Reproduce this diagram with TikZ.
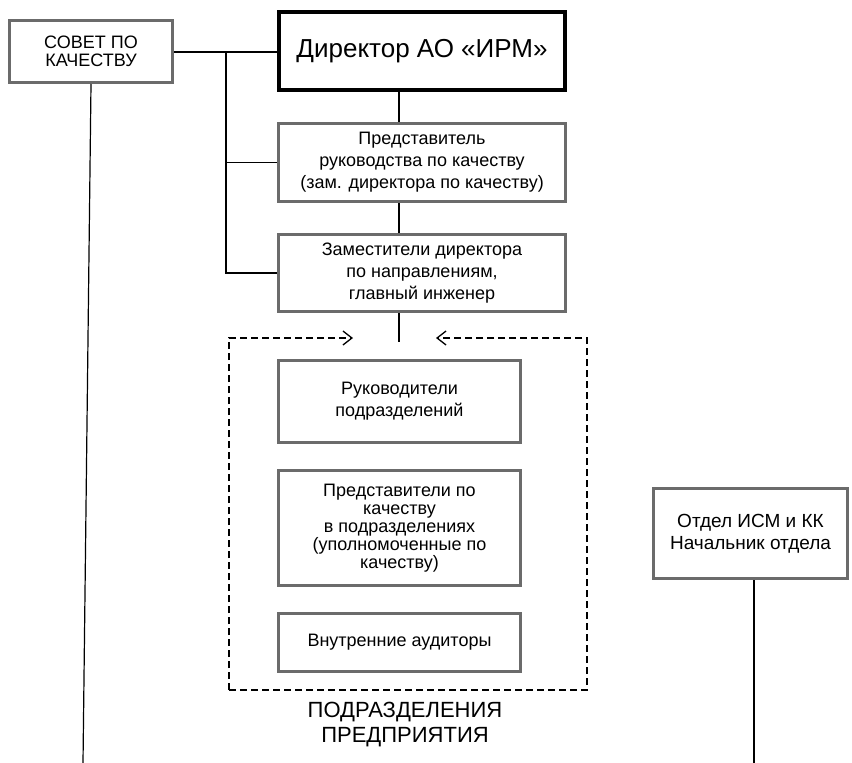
\documentclass[tikz,border=0pt]{standalone}
\usepackage{fontspec}
\setmainfont{Liberation Sans}
\usetikzlibrary{positioning}
\usetikzlibrary{arrows.meta, calc}
\definecolor{boxgray}{HTML}{6B6B6B}

\begin{document}
\begin{tikzpicture}
  [
    x=1pt, y=-1pt,
    >={Straight Barb[length=9pt,width=14pt]},
    unit/.style  = {draw=boxgray, line width=3pt, align=center, inner sep=0pt},
    chief/.style = {draw=black, line width=4pt, align=center, inner sep=0pt},
    link/.style  = {draw=black, line width=1.2pt},
    frame/.style = {draw=black, line width=1.3pt, dash pattern=on 7pt off 4pt},
  ]

  \tikzstyle{every node}=[font=\fontsize{18}{22}\selectfont]

  \useasboundingbox (0,0) rectangle (852,763);

  % the spine and the bus
  \def\spinex{399}
  \def\busx{226}

  % Top management
  \node (cncl) at (91,51.5) [unit, minimum width=163pt, minimum height=62pt, font=\fontsize{18}{17.5}\selectfont] {СОВЕТ ПО\\КАЧЕСТВУ};
  \node (dir) at (422,51) [chief, minimum width=286pt, minimum height=78pt, font=\fontsize{26}{30}\selectfont] {Директор АО «ИРМ»};
  \node (rep) at (422,162.5) [unit, minimum width=287pt, minimum height=78pt] {Представитель\\руководства по качеству\\(зам. директора по качеству)};
  \node (dep) at (422,273) [unit, minimum width=287pt, minimum height=77pt] {Заместители директора\\по направлениям,\\главный инженер};

  \coordinate (spine) at (\spinex,0);
  \coordinate (bus) at (\busx,52);

  % links to the director
  \draw[link, line width=2pt] (cncl.east |- bus) -- (bus);
  \draw[link] (bus) -- (bus -| dir.west);
  \draw[link] (bus) |- (rep.west);
  \draw[link] (bus) |- (dep.west);
  \draw[link] (dir.south -| spine) -- (rep.north -| spine);
  \draw[link] (rep.south -| spine) -- (dep.north -| spine);

  % Subdivisions (dashed frame)
  \coordinate (spinend) at (\spinex,342);
  \draw[link] (dep.south -| spine) -- (spinend);

  \coordinate (framenw) at (229,338);
  \coordinate (framene) at (587,338);
  \coordinate (framesw) at (229,690);
  \coordinate (framese) at (587,690);
  \coordinate (arrl) at (353,338);
  \coordinate (arrr) at (436,338);

  \draw[frame, ->] (framesw) -- (framenw) -- (arrl);
  \draw[frame, ->] (framesw) -- (framese) -- (framene) -- (arrr);

  \node (heads) at (399.5,401.5) [unit, minimum width=242pt, minimum height=82pt] {Руководители\\подразделений};
  \node (qreps) at (399.5,528) [unit, minimum width=242pt, minimum height=115pt, font=\fontsize{18}{18}\selectfont] {Представители по\\качеству\\в подразделениях\\(уполномоченные по\\качеству)};
  \node (audit) at (399.5,642.5) [unit, minimum width=242pt, minimum height=58pt] {Внутренние аудиторы};

  \node (subdiv) at (405,725) [align=center, font=\fontsize{22}{25}\selectfont] {ПОДРАЗДЕЛЕНИЯ\\ПРЕДПРИЯТИЯ};

  % QMS department
  \node (ism) at (750.5,533.5) [unit, minimum width=194pt, minimum height=90pt, font=\fontsize{19}{22}\selectfont] {Отдел ИСМ и КК\\Начальник отдела};

  % long lines down to the page edge
  \coordinate (cnclend) at (83,763);
  \coordinate (ismend) at (754,763);
  \draw[link] (cncl.south) -- (cnclend);
  \draw[link] (ism.south -| ismend) -- (ismend);
\end{tikzpicture}
\end{document}
